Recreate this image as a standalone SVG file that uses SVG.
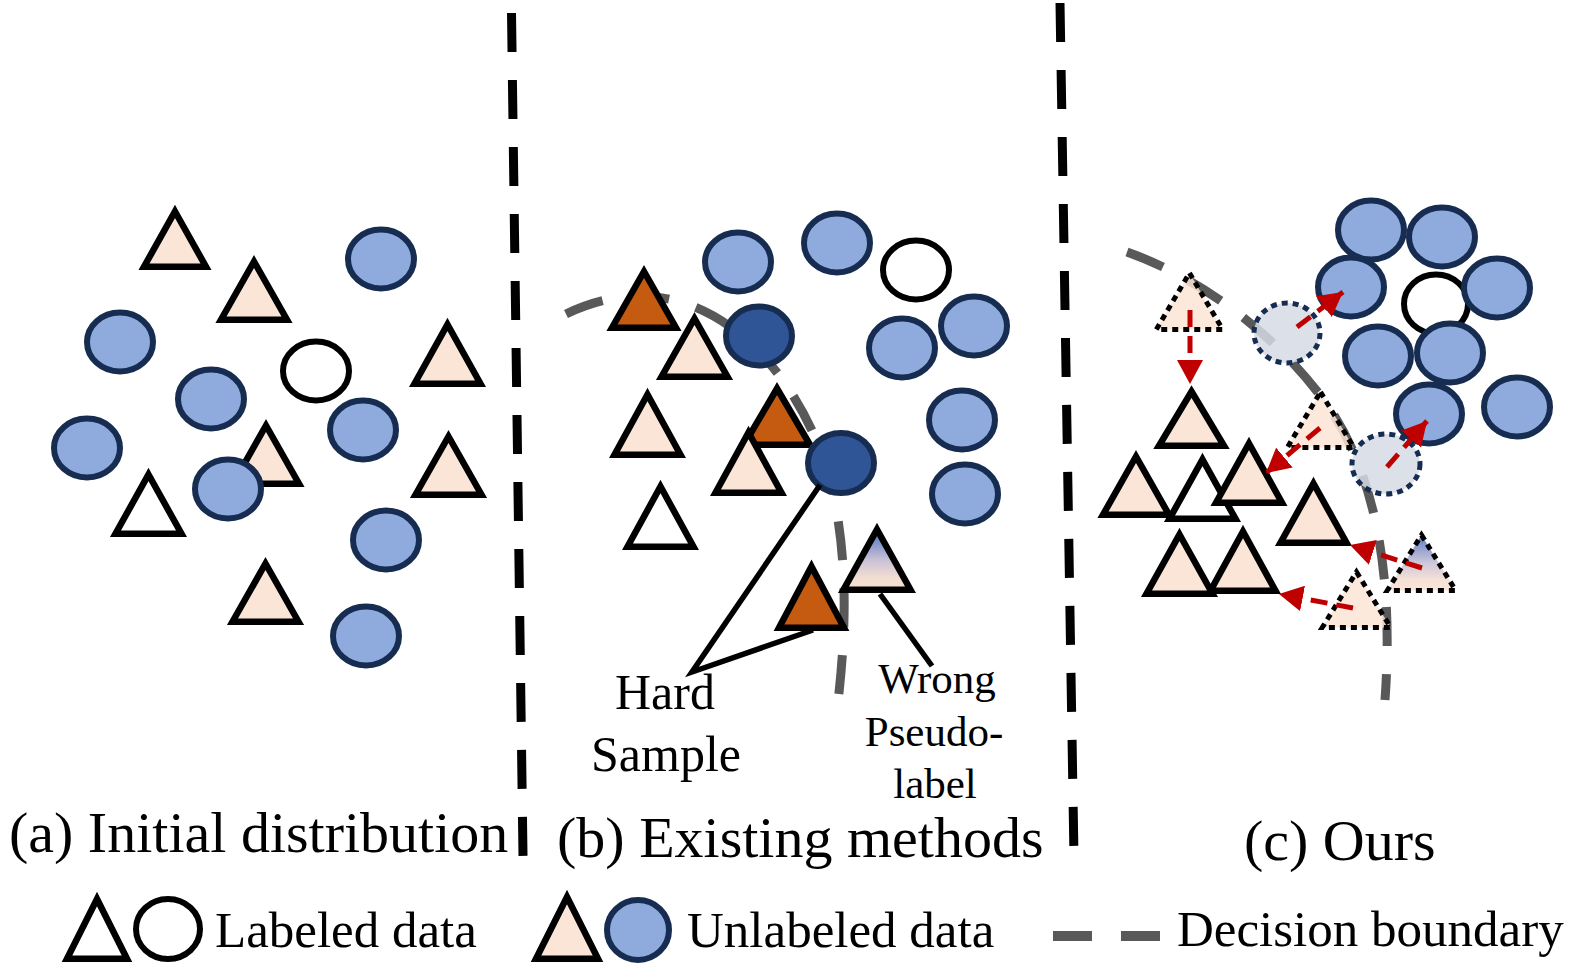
<svg xmlns="http://www.w3.org/2000/svg" width="1575" height="975" viewBox="0 0 1575 975">
<style>
.t{fill:#fbe5d6;stroke:#000;stroke-width:6.5;stroke-linejoin:miter}
.tw{fill:#fff;stroke:#000;stroke-width:6.5}
.to{fill:#c55a11;stroke:#000;stroke-width:6.5}
.tg{fill:url(#grad);stroke:#000;stroke-width:6.5}
.c{fill:#8faadc;stroke:#172c51;stroke-width:6}
.cw{fill:#fff;stroke:#000;stroke-width:6}
.cd{fill:#2f5597;stroke:#172c51;stroke-width:6}
.dt{fill:#fbe5d6;fill-opacity:0.85;stroke:#000;stroke-width:5;stroke-dasharray:6 5}
.dtg{fill:url(#grad);fill-opacity:0.9;stroke:#000;stroke-width:5;stroke-dasharray:6 5}
.dc{fill:#d6dce5;fill-opacity:0.85;stroke:#172c51;stroke-width:5;stroke-dasharray:6 5}
.db{fill:none;stroke:#595959;stroke-width:9;stroke-dasharray:39 28}
.vl{fill:none;stroke:#000;stroke-width:9;stroke-dasharray:39 28}
.ln{fill:none;stroke:#000;stroke-width:5.5}
.ar{fill:none;stroke:#c00000;stroke-width:5;stroke-dasharray:17 9;marker-end:url(#ah)}
text{font-family:"Liberation Serif","Times New Roman",serif;fill:#000}
.cap{font-size:58px}
.lab{font-size:50px}
.lg{font-size:51px}
.wp{font-size:43px}
</style>
<defs>
<linearGradient id="grad" x1="0" y1="0" x2="0" y2="1">
<stop offset="0" stop-color="#4a6fbf"/>
<stop offset="0.5" stop-color="#c8c0d6"/>
<stop offset="0.8" stop-color="#f3ddd1"/>
<stop offset="1" stop-color="#f8e2d4"/>
</linearGradient>
<marker id="ah" markerUnits="userSpaceOnUse" markerWidth="26" markerHeight="26" refX="24" refY="13" orient="auto">
<path d="M0,0 L24,13 L0,26 Z" fill="#c00000"/>
</marker>
</defs>

<g id="dividers">
<line class="vl" x1="511.5" y1="13" x2="523" y2="856"/>
<line class="vl" x1="1060" y1="3" x2="1074" y2="858"/>
</g>

<!-- Panel (a) -->
<g id="panel-a">
<path class="t" d="M175,211.5 L206,266.75 L144,266.75 Z"/>
<path class="t" d="M254,261.5 L287,319.75 L221,319.75 Z"/>
<path class="t" d="M447.5,324.5 L480.5,383.75 L414.5,383.75 Z"/>
<path class="t" d="M448.5,436.5 L481.5,494.75 L415.5,494.75 Z"/>
<path class="t" d="M266,425.5 L299,483.75 L233,483.75 Z"/>
<path class="tw" d="M148.5,474.5 L181.5,533.75 L115.5,533.75 Z"/>
<path class="t" d="M265.5,563.5 L298.5,621.75 L232.5,621.75 Z"/>
<ellipse class="c" cx="381" cy="259" rx="33" ry="29.5"/>
<ellipse class="c" cx="120" cy="342" rx="33" ry="29.5"/>
<ellipse class="c" cx="211" cy="399" rx="33" ry="29.5"/>
<ellipse class="cw" cx="316" cy="371" rx="33" ry="29.5"/>
<ellipse class="c" cx="87" cy="448" rx="33" ry="29.5"/>
<ellipse class="c" cx="363" cy="430" rx="33" ry="29.5"/>
<ellipse class="c" cx="228" cy="489" rx="33" ry="29.5"/>
<ellipse class="c" cx="386" cy="540" rx="33" ry="29.5"/>
<ellipse class="c" cx="366" cy="636" rx="33" ry="29.5"/>
</g>
<text class="cap" x="9" y="852">(a) Initial distribution</text>

<!-- Panel (b) -->
<g id="connectors-b">
<path class="db" d="M566,314 C700,250 800,370 830,480 C850,560 845,640 838,702"/>
</g>
<g id="panel-b">
<ellipse class="c" cx="738" cy="262" rx="33" ry="29.5"/>
<ellipse class="c" cx="837" cy="243" rx="33" ry="29.5"/>
<ellipse class="cw" cx="916" cy="270" rx="33" ry="29.5"/>
<ellipse class="c" cx="974" cy="326" rx="33" ry="29.5"/>
<ellipse class="c" cx="902" cy="348" rx="33" ry="29.5"/>
<ellipse class="c" cx="962" cy="420" rx="33" ry="29.5"/>
<ellipse class="c" cx="965" cy="494" rx="33" ry="29.5"/>
<path class="to" d="M644,271.5 L676,327.75 L612,327.75 Z"/>
<path class="t" d="M694.5,318.5 L727.5,376.75 L661.5,376.75 Z"/>
<ellipse class="cd" cx="759" cy="336" rx="33" ry="29.5"/>
<path class="t" d="M647.5,394.5 L680.5,454.75 L614.5,454.75 Z"/>
<path class="to" d="M777,388.5 L810,444.75 L744,444.75 Z"/>
<path class="t" d="M748.5,432.5 L781.5,492.75 L715.5,492.75 Z"/>
<ellipse class="cd" cx="841" cy="463" rx="33" ry="30"/>
<path class="tw" d="M660.5,486.5 L693.5,546.75 L627.5,546.75 Z"/>
<path class="to" d="M811.5,566.5 L844,627.75 L779,627.75 Z"/>
<path class="tg" d="M877,529.5 L910.5,589.75 L843.5,589.75 Z"/>
<polyline class="ln" points="820,485 692,672 813,630"/>
<line class="ln" x1="880" y1="594" x2="932" y2="666"/>
</g>
<text class="lab" x="665" y="709" text-anchor="middle">Hard</text>
<text class="lab" x="666" y="771" text-anchor="middle">Sample</text>
<text class="wp" x="937" y="693" text-anchor="middle">Wrong</text>
<text class="wp" x="934" y="746" text-anchor="middle">Pseudo-</text>
<text class="wp" x="935" y="798" text-anchor="middle">label</text>
<text class="cap" x="557" y="857">(b) Existing methods</text>

<!-- Panel (c) -->
<g id="connectors-c-boundary">
<path class="db" d="M1127,252 C1200,278 1270,330 1320,395 C1370,460 1395,560 1385,700"/>
</g>
<g id="panel-c">
<ellipse class="c" cx="1371" cy="230" rx="33" ry="29.5"/>
<ellipse class="c" cx="1442" cy="237" rx="33" ry="29.5"/>
<ellipse class="cw" cx="1436" cy="304" rx="32" ry="29.5"/>
<ellipse class="c" cx="1351" cy="287" rx="33" ry="29.5"/>
<ellipse class="c" cx="1497" cy="288" rx="33" ry="29.5"/>
<ellipse class="c" cx="1378" cy="356" rx="33" ry="29.5"/>
<ellipse class="c" cx="1450" cy="353" rx="33" ry="29.5"/>
<ellipse class="c" cx="1429" cy="414" rx="33" ry="29.5"/>
<ellipse class="c" cx="1517" cy="407" rx="33" ry="29.5"/>
<path class="t" d="M1191.5,391.5 L1224,445.75 L1159,445.75 Z"/>
<path class="t" d="M1136,456.5 L1169,514.75 L1103,514.75 Z"/>
<path class="tw" d="M1202.5,459.5 L1235.5,518.75 L1169.5,518.75 Z"/>
<path class="t" d="M1249,443.5 L1282,502.75 L1216,502.75 Z"/>
<path class="t" d="M1313.5,483.5 L1346.5,542.75 L1280.5,542.75 Z"/>
<path class="t" d="M1179.5,534.5 L1212.5,593.75 L1146.5,593.75 Z"/>
<path class="t" d="M1243,531.5 L1275.5,590.75 L1210.5,590.75 Z"/>
<path class="dt" d="M1189.5,273 L1222.7,329.5 L1156.3,329.5 Z"/>
<path class="dt" d="M1320.5,392 L1353.7,447.5 L1287.3,447.5 Z"/>
<path class="dtg" d="M1421.5,535 L1455.7,590.5 L1387.3,590.5 Z"/>
<path class="dt" d="M1356.5,572 L1390.7,627.5 L1322.3,627.5 Z"/>
<ellipse class="dc" cx="1287" cy="333" rx="33" ry="30"/>
<ellipse class="dc" cx="1386" cy="464" rx="34" ry="30"/>
</g>
<g id="connectors-c">
<line class="ar" x1="1190" y1="310" x2="1190" y2="384"/>
<line class="ar" x1="1297" y1="327" x2="1343" y2="292"/>
<line class="ar" x1="1320" y1="428" x2="1266" y2="473"/>
<line class="ar" x1="1387" y1="467" x2="1427" y2="421"/>
<line class="ar" x1="1422" y1="568" x2="1350" y2="545"/>
<line class="ar" x1="1353" y1="608" x2="1279" y2="594"/>
</g>
<text class="cap" x="1244" y="860">(c) Ours</text>

<!-- Legend -->
<g id="legend-labeled">
<path class="tw" d="M97,899 L127,958.75 L67,958.75 Z"/>
<ellipse class="cw" cx="168" cy="929" rx="32" ry="30"/>
<text class="lg" x="215" y="947">Labeled data</text>
</g>
<g id="legend-unlabeled">
<path class="t" d="M567,897 L598,958.75 L536,958.75 Z"/>
<ellipse class="c" cx="638" cy="930" rx="31" ry="30"/>
<text class="lg" x="687" y="947">Unlabeled data</text>
</g>
<g id="legend-boundary">
<line x1="1053" y1="936" x2="1160" y2="936" stroke="#595959" stroke-width="10" stroke-dasharray="39 29"/>
<text class="lg" x="1177" y="946">Decision boundary</text>
</g>
</svg>
